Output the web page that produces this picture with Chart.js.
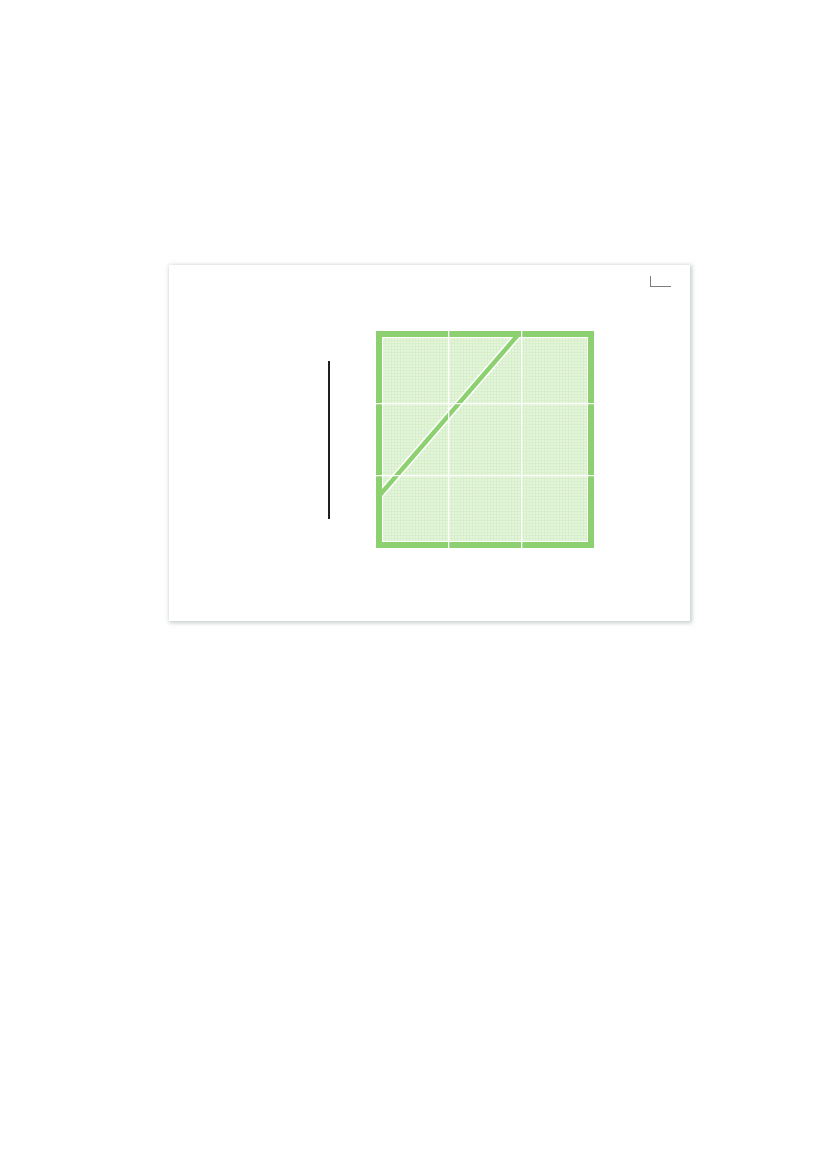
<!DOCTYPE html>
<html>
<head>
<meta charset="utf-8">
<script src="https://cdn.jsdelivr.net/npm/chart.js@4/dist/chart.umd.min.js"></script>
<style>
  html, body { margin: 0; padding: 0; background: #fff; }
  body { width: 827px; height: 1169px; position: relative; overflow: hidden; }
  .card {
    position: absolute; left: 169px; top: 265px; width: 521px; height: 356px;
    background: #fff;
    box-shadow: 1px 1px 4px 1px rgba(150, 170, 160, 0.55);
  }
  .card canvas { position: absolute; left: 0; top: 0; }
  .rule {
    position: absolute; left: 159px; top: 96px; width: 1.5px; height: 158px;
    background: #1b2219;
  }
  .corner {
    position: absolute; left: 481px; top: 11px; width: 20px; height: 10px;
    border-left: 1.5px solid #7c7c80; border-bottom: 1.5px solid #7c7c80;
  }
</style>
</head>
<body>
<div class="card">
  <canvas id="chart" width="521" height="356"></canvas>
  <div class="rule"></div>
  <div class="corner"></div>
</div>
<script>
// ── Data ────────────────────────────────────────────────────────────────────
const axisMin = 0;
const axisMax = 3;
const frameX = [0, 0, 3, 3, 0];
const frameY = [0, 3, 3, 0, 0];
const splitX = [0, 2];
const splitY = [0.67, 3];
const lowerX = [0, 2, 3];
const lowerY = [0.67, 3, 3];

// ── Palette ─────────────────────────────────────────────────────────────────
const GREEN = '#8cd070';
const WHITE = '#ffffff';

const pts = (xs, ys) => xs.map((x, i) => ({ x, y: ys[i] }));

// fine grid texture for the fill
function makePattern() {
  const c = document.createElement('canvas');
  c.width = 3; c.height = 3;
  const g = c.getContext('2d');
  g.fillStyle = '#e4f5db';
  g.fillRect(0, 0, 3, 3);
  g.fillStyle = '#d8efcc';
  g.fillRect(0, 0, 3, 1);
  g.fillRect(0, 0, 1, 3);
  return g.createPattern(c, 'repeat');
}
const fillPattern = makePattern();

function lineSet(data, color, width, order) {
  return {
    data, showLine: true, fill: false,
    borderColor: color, borderWidth: width,
    borderJoinStyle: 'miter', borderCapStyle: 'butt',
    pointRadius: 0, clip: 0, order,
  };
}

const gridOpts = {
  color: ctx => (ctx.tick && ctx.tick.value > axisMin && ctx.tick.value < axisMax) ? WHITE : 'rgba(0,0,0,0)',
  lineWidth: 1.3,
  drawTicks: false,
  z: 1,
};

new Chart(document.getElementById('chart'), {
  type: 'scatter',
  data: {
    datasets: [
      lineSet(pts(frameX, frameY), GREEN, 12, 0),
      lineSet(pts(splitX, splitY), GREEN, 4.5, 1),
      lineSet(pts(frameX, frameY), WHITE, 14, 2),
      lineSet(pts(splitX, splitY), WHITE, 7.5, 3),
      {
        data: pts(splitX, splitY), showLine: true, fill: 'end',
        backgroundColor: fillPattern, borderWidth: 0,
        pointRadius: 0, clip: 0, order: 4,
      },
      {
        data: pts(lowerX, lowerY), showLine: true, fill: 'start',
        backgroundColor: fillPattern, borderWidth: 0,
        pointRadius: 0, clip: 0, order: 5,
      },
    ],
  },
  options: {
    responsive: false,
    animation: false,
    layout: { padding: { left: 207, top: 66, right: 96, bottom: 73 } },
    plugins: { legend: { display: false }, tooltip: { enabled: false } },
    scales: {
      x: {
        type: 'linear', min: axisMin, max: axisMax, z: 1,
        ticks: { display: false, stepSize: 1 },
        grid: gridOpts, border: { display: false },
      },
      y: {
        type: 'linear', min: axisMin, max: axisMax, z: 1,
        ticks: { display: false, stepSize: 1 },
        grid: gridOpts, border: { display: false },
      },
    },
  },
});
</script>
</body>
</html>
